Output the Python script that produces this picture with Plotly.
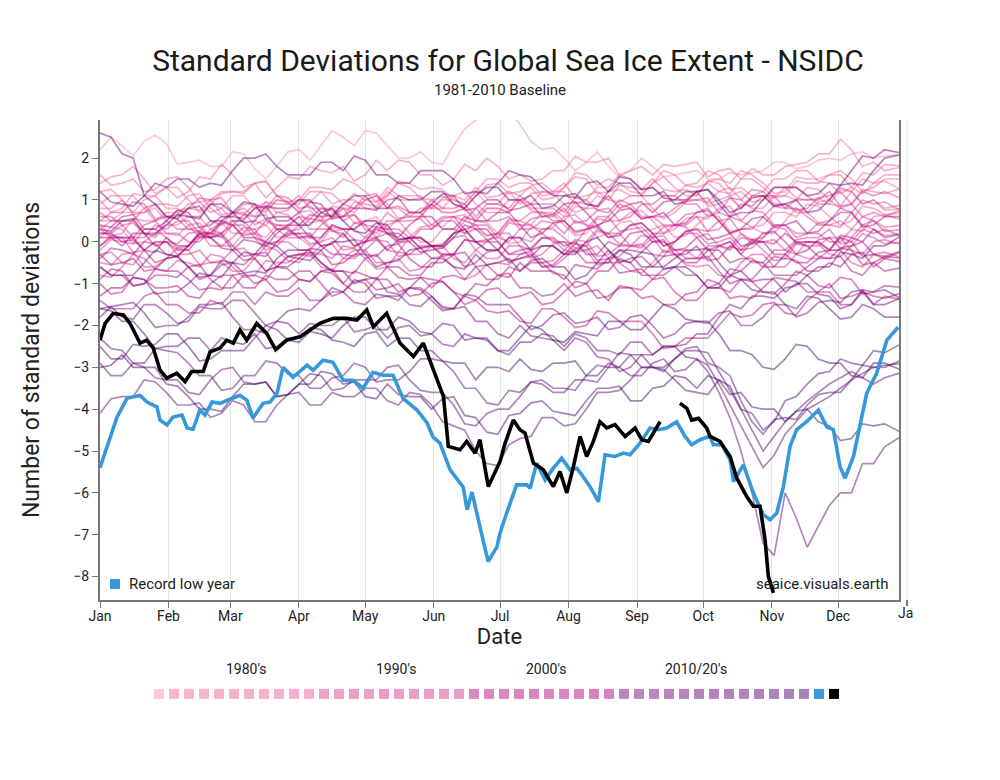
import plotly.graph_objects as go

# day-of-year sample points for the background years (every 5 days, last one on Dec 31)
doy = list(range(0, 360, 5)) + [364]

month_days = [0, 31, 59, 90, 120, 151, 181, 212, 243, 273, 304, 334]
month_names = ['Jan', 'Feb', 'Mar', 'Apr', 'May', 'Jun', 'Jul', 'Aug', 'Sep', 'Oct', 'Nov', 'Dec']

years = list(range(1979, 2023))

sd_1979 = [2.2, 2.5, 2.3, 2.05, 2.4, 2.55, 2.35, 1.85, 1.9, 1.95, 1.8, 1.8, 2.15, 2.1, 1.75, 1.5, 1.8, 2.15, 2.2, 1.95, 2.3, 2.65, 2.5, 2.3, 2.65, 2.6, 2.3, 2.0, 2.0, 2.15, 1.9, 1.85, 2.3, 2.7, 2.9, 3.1, 3.4, 3.15, 2.8, 2.4, 2.2, 2.25, 2.0, 1.7, 1.9, 2.15, 1.8, 1.55, 1.7, 2.0, 1.8, 1.55, 1.6, 1.65, 1.7, 1.5, 1.5, 1.65, 1.6, 1.65, 1.7, 1.9, 1.9, 1.75, 1.8, 1.95, 2.0, 1.95, 2.1, 2.15, 2.0, 2.05, 2.1]
sd_1980 = [1.4, 1.55, 1.6, 1.8, 1.5, 1.15, 1.3, 1.05, 1.2, 1.55, 1.5, 1.85, 1.6, 1.3, 1.4, 1.05, 1.3, 1.55, 1.5, 1.8, 1.7, 1.65, 1.8, 1.45, 1.6, 1.95, 1.7, 1.95, 1.9, 1.6, 1.6, 1.35, 1.5, 1.85, 1.7, 2.0, 1.8, 1.5, 1.6, 1.45, 1.5, 1.7, 1.7, 2.05, 1.9, 1.9, 2.0, 1.6, 1.7, 1.8, 1.6, 1.85, 1.8, 1.85, 1.9, 1.55, 1.7, 1.75, 1.5, 1.75, 1.6, 1.6, 1.8, 1.85, 1.9, 2.1, 2.1, 2.45, 2.2, 1.8, 1.9, 1.7, 1.8]
sd_1981 = [1.0, 0.7, 0.8, 1.15, 1.1, 1.1, 1.3, 1.3, 1.0, 0.7, 0.9, 1.15, 1.2, 1.2, 1.4, 1.45, 1.1, 0.95, 1.0, 1.3, 1.3, 1.25, 1.5, 1.4, 1.2, 0.95, 1.1, 1.45, 1.4, 1.25, 1.3, 1.25, 1.0, 0.9, 1.2, 1.5, 1.5, 1.3, 1.4, 1.4, 1.1, 1.15, 1.3, 1.65, 1.6, 1.35, 1.5, 1.4, 1.2, 1.15, 1.4, 1.55, 1.3, 1.1, 1.1, 1.45, 1.5, 1.4, 1.7, 1.6, 1.4, 1.15, 1.2, 1.55, 1.5, 1.5, 1.6, 1.6, 1.3, 1.15, 1.4, 1.6, 1.6]
sd_1982 = [0.5, 0.5, 0.7, 0.7, 1.0, 1.1, 0.8, 0.8, 0.6, 0.6, 0.9, 0.8, 1.1, 1.1, 0.8, 0.95, 0.7, 0.75, 1.0, 0.95, 1.2, 1.15, 0.9, 1.15, 1.0, 0.95, 1.3, 1.1, 1.1, 1.1, 0.8, 1.0, 1.0, 0.9, 1.2, 0.9, 0.9, 1.2, 1.1, 1.35, 1.4, 1.2, 1.2, 0.9, 1.0, 1.3, 1.3, 1.6, 1.5, 1.25, 1.3, 1.1, 1.1, 1.35, 1.4, 1.7, 1.6, 1.25, 1.3, 1.1, 1.2, 1.5, 1.5, 1.7, 1.7, 1.45, 1.4, 1.15, 1.3, 1.65, 1.6, 1.85, 1.8]
sd_1983 = [1.2, 1.25, 1.0, 0.65, 0.7, 0.9, 0.9, 0.85, 1.1, 1.15, 0.8, 0.6, 0.6, 0.9, 0.9, 0.75, 1.0, 0.95, 0.7, 0.45, 0.5, 0.85, 0.8, 0.8, 1.0, 1.1, 0.9, 0.55, 0.6, 0.8, 0.8, 0.8, 1.1, 1.2, 0.9, 0.7, 0.7, 1.0, 1.0, 0.9, 1.2, 1.15, 0.9, 0.7, 0.8, 1.1, 1.0, 0.95, 1.1, 1.1, 0.8, 0.55, 0.7, 0.95, 1.0, 0.95, 1.2, 1.3, 1.0, 0.8, 0.8, 1.1, 1.1, 1.0, 1.3, 1.25, 1.0, 0.8, 0.9, 1.25, 1.2, 1.15, 1.3]
sd_1984 = [0.3, 0.5, 0.5, 0.5, 0.2, 0.1, 0.4, 0.4, 0.6, 0.6, 0.3, 0.45, 0.2, 0.2, 0.5, 0.4, 0.7, 0.65, 0.4, 0.65, 0.6, 0.6, 0.8, 0.45, 0.5, 0.6, 0.3, 0.55, 0.6, 0.6, 0.9, 0.7, 0.7, 0.8, 0.5, 0.8, 0.8, 0.7, 1.0, 0.75, 0.7, 0.7, 0.5, 0.85, 0.8, 0.8, 1.1, 0.8, 0.9, 0.95, 0.7, 0.95, 1.0, 1.0, 1.2, 0.85, 0.9, 1.05, 0.8, 1.1, 1.1, 1.05, 1.3, 1.05, 1.0, 1.05, 0.9, 1.25, 1.2, 0.9, 1.0, 0.75, 0.8]
sd_1985 = [1.6, 1.35, 1.4, 1.5, 1.2, 1.25, 1.5, 1.55, 1.3, 0.95, 1.0, 1.2, 1.2, 1.15, 1.4, 1.45, 1.1, 0.9, 0.9, 1.2, 1.2, 0.9, 1.0, 1.0, 0.8, 0.8, 1.1, 1.4, 1.3, 1.05, 1.0, 1.1, 0.9, 0.8, 1.1, 1.35, 1.4, 1.15, 1.2, 1.3, 1.0, 1.05, 1.3, 1.55, 1.5, 1.15, 1.2, 1.25, 1.1, 1.1, 1.4, 1.7, 1.6, 1.35, 1.3, 1.4, 1.2, 1.15, 1.5, 1.5, 1.3, 1.05, 1.1, 1.45, 1.4, 1.4, 1.6, 1.7, 1.5, 1.2, 1.3, 1.5, 1.5]
sd_1986 = [0.8, 0.8, 1.0, 0.7, 0.7, 0.8, 0.5, 0.75, 0.8, 0.75, 1.0, 0.65, 0.7, 0.8, 0.6, 0.95, 0.9, 0.9, 1.1, 0.8, 0.8, 0.8, 0.6, 0.95, 0.9, 0.85, 1.2, 1.0, 1.0, 1.05, 0.8, 1.05, 1.1, 1.0, 1.3, 1.05, 1.1, 1.2, 0.9, 1.15, 1.2, 1.2, 1.4, 1.05, 1.1, 1.2, 1.0, 1.35, 1.3, 1.25, 1.5, 1.25, 1.2, 1.25, 1.1, 1.45, 1.4, 1.1, 1.2, 0.95, 1.0, 1.3, 1.3, 1.3, 1.1, 0.9, 0.9, 0.85, 1.2, 1.5, 1.4, 1.45, 1.2]
sd_1987 = [0.1, 0.35, 0.3, -0.05, 0.0, 0.2, 0.2, 0.15, 0.4, 0.45, 0.1, -0.1, -0.1, 0.2, 0.2, 0.1, 0.4, 0.35, 0.1, -0.1, 0.0, 0.35, 0.3, 0.3, 0.5, 0.5, 0.2, -0.05, 0.1, 0.35, 0.4, 0.35, 0.6, 0.65, 0.3, 0.15, 0.2, 0.5, 0.5, 0.4, 0.7, 0.65, 0.4, 0.15, 0.2, 0.55, 0.5, 0.5, 0.7, 0.75, 0.5, 0.2, 0.3, 0.55, 0.6, 0.55, 0.8, 0.85, 0.5, 0.35, 0.4, 0.7, 0.7, 0.6, 0.9, 0.85, 0.6, 0.4, 0.5, 0.85, 0.8, 0.65, 0.7]
sd_1988 = [0.9, 1.1, 1.1, 1.1, 0.8, 0.5, 0.6, 0.65, 0.9, 0.95, 0.7, 0.8, 0.5, 0.5, 0.8, 0.7, 1.0, 0.95, 0.7, 0.75, 0.5, 0.55, 0.8, 0.7, 1.0, 1.1, 0.8, 0.8, 0.6, 0.6, 0.9, 0.7, 0.7, 0.8, 0.5, 0.8, 0.8, 0.7, 1.0, 0.8, 0.8, 0.8, 0.6, 0.95, 0.9, 0.85, 1.1, 0.8, 0.9, 0.95, 0.7, 0.95, 1.0, 1.0, 1.2, 0.9, 1.0, 1.1, 0.8, 1.1, 1.1, 0.85, 0.9, 0.7, 0.7, 0.95, 1.0, 1.3, 1.2, 0.9, 1.0, 0.8, 0.9]
sd_1989 = [0.4, 0.15, 0.2, 0.55, 0.5, 0.5, 0.7, 0.7, 0.4, 0.1, 0.2, 0.45, 0.5, 0.25, 0.3, 0.4, 0.1, 0.15, 0.4, 0.65, 0.6, 0.25, 0.3, 0.3, 0.1, 0.1, 0.4, 0.5, 0.2, 0.0, 0.0, 0.3, 0.3, 0.2, 0.5, 0.45, 0.2, -0.05, 0.0, 0.35, 0.3, 0.35, 0.6, 0.65, 0.4, 0.1, 0.2, 0.45, 0.5, 0.25, 0.3, 0.4, 0.1, 0.15, 0.4, 0.65, 0.6, 0.25, 0.3, 0.35, 0.2, 0.2, 0.5, 0.8, 0.7, 0.45, 0.4, 0.5, 0.3, 0.25, 0.6, 0.65, 0.5]
sd_1990 = [0.7, 0.5, 0.5, 0.5, 0.8, 0.9, 0.6, 0.55, 0.3, 0.25, 0.5, 0.4, 0.7, 0.7, 0.4, 0.55, 0.3, 0.35, 0.6, 0.55, 0.8, 0.75, 0.5, 0.65, 0.4, 0.35, 0.7, 0.5, 0.5, 0.55, 0.3, 0.55, 0.6, 0.3, 0.4, 0.15, 0.2, 0.55, 0.5, 0.7, 0.7, 0.5, 0.5, 0.2, 0.3, 0.6, 0.6, 0.9, 0.8, 0.55, 0.6, 0.4, 0.4, 0.65, 0.7, 0.8, 0.5, 0.2, 0.3, 0.3, 0.6, 0.85, 0.8, 0.8, 0.6, 0.4, 0.4, 0.35, 0.7, 1.0, 0.9, 0.95, 0.7]
sd_1991 = [-0.2, 0.05, 0.0, -0.05, 0.3, 0.3, 0.1, -0.15, -0.1, 0.25, 0.2, 0.2, 0.4, 0.4, 0.1, -0.2, -0.1, 0.15, 0.2, -0.05, 0.0, 0.1, -0.2, -0.15, 0.1, 0.35, 0.3, 0.0, 0.1, 0.1, -0.1, -0.1, 0.2, 0.3, 0.0, -0.2, -0.2, 0.1, 0.1, 0.0, 0.3, 0.3, 0.1, -0.15, -0.1, 0.25, 0.2, 0.2, 0.4, 0.45, 0.2, -0.1, 0.0, 0.25, 0.3, 0.25, 0.5, 0.55, 0.2, 0.05, 0.1, 0.4, 0.4, 0.1, 0.2, 0.2, 0.0, 0.0, 0.3, 0.6, 0.5, 0.35, 0.4]
sd_1992 = [0.5, 0.7, 0.7, 0.95, 0.9, 0.55, 0.6, 0.6, 0.8, 1.05, 1.0, 1.05, 0.7, 0.65, 0.9, 0.8, 1.1, 1.05, 0.8, 0.85, 0.6, 0.65, 0.9, 0.8, 1.1, 1.15, 0.8, 0.85, 0.7, 0.7, 1.0, 0.8, 0.8, 0.9, 0.6, 0.9, 0.9, 0.8, 1.1, 0.9, 0.9, 0.9, 0.7, 1.05, 1.0, 0.75, 0.8, 0.5, 0.6, 0.9, 0.9, 1.1, 1.1, 0.9, 0.9, 0.6, 0.7, 1.05, 1.0, 1.25, 1.2, 0.9, 0.9, 0.75, 0.8, 1.05, 1.1, 1.2, 0.9, 0.6, 0.7, 0.6, 0.8]
sd_1993 = [-0.5, -0.55, -0.3, -0.25, -0.6, -0.6, -0.4, -0.15, -0.2, -0.55, -0.5, -0.5, -0.7, -0.7, -0.4, -0.1, -0.2, -0.45, -0.5, -0.25, -0.3, -0.4, -0.1, -0.15, -0.4, -0.65, -0.6, -0.25, -0.3, -0.3, -0.1, -0.1, -0.4, -0.5, -0.2, 0.0, 0.0, -0.3, -0.3, -0.2, -0.5, -0.45, -0.2, 0.05, 0.0, -0.35, -0.3, -0.1, -0.1, -0.15, 0.1, 0.15, -0.2, -0.4, -0.4, -0.1, -0.1, -0.2, 0.1, 0.05, -0.2, -0.45, -0.4, -0.05, -0.1, -0.1, 0.1, 0.1, -0.2, -0.3, 0.0, 0.05, -0.1]
sd_1994 = [0.2, 0.2, 0.4, 0.1, 0.1, 0.4, 0.3, 0.5, 0.5, 0.2, 0.2, 0.1, 0.4, 0.65, 0.6, 0.65, 0.3, 0.1, 0.1, 0.1, 0.4, 0.6, 0.6, 0.65, 0.3, 0.2, 0.5, 0.5, 0.7, 0.7, 0.4, 0.6, 0.6, 0.5, 0.8, 0.5, 0.5, 0.6, 0.3, 0.55, 0.6, 0.6, 0.8, 0.45, 0.5, 0.75, 0.7, 1.0, 0.9, 0.6, 0.6, 0.6, 0.8, 1.0, 1.0, 1.05, 0.7, 0.6, 0.9, 0.85, 1.1, 1.1, 0.8, 1.0, 1.0, 1.0, 1.2, 0.85, 0.9, 1.2, 1.1, 1.2, 1.0]
sd_1995 = [-0.1, 0.15, 0.1, -0.25, -0.2, 0.0, 0.0, -0.05, 0.2, 0.25, -0.1, -0.1, 0.1, 0.35, 0.3, -0.05, 0.0, 0.0, -0.2, -0.2, 0.1, 0.4, 0.3, 0.05, 0.0, 0.05, -0.2, -0.25, 0.1, 0.1, -0.1, -0.35, -0.3, 0.05, 0.0, 0.0, 0.2, 0.2, -0.1, -0.4, -0.3, -0.05, 0.0, -0.25, -0.2, -0.1, -0.4, -0.35, -0.1, 0.15, 0.1, -0.25, -0.2, -0.2, -0.4, -0.4, -0.1, 0.0, -0.3, -0.5, -0.5, -0.2, -0.2, -0.3, 0.0, -0.05, -0.3, -0.35, -0.1, 0.2, 0.1, -0.05, 0.0]
sd_1996 = [0.6, 0.6, 0.4, 0.45, 0.2, 0.15, 0.5, 0.3, 0.3, 0.35, 0.1, 0.45, 0.4, 0.15, 0.2, -0.1, 0.0, 0.25, 0.3, 0.55, 0.5, 0.25, 0.2, -0.1, 0.0, 0.35, 0.3, 0.3, 0.1, -0.15, -0.1, -0.05, 0.2, 0.5, 0.4, 0.4, 0.1, 0.0, 0.3, 0.3, 0.5, 0.45, 0.2, 0.5, 0.4, 0.35, 0.6, 0.25, 0.3, 0.35, 0.1, 0.35, 0.4, 0.4, 0.6, 0.25, 0.3, 0.6, 0.5, 0.75, 0.7, 0.4, 0.4, 0.2, 0.2, 0.45, 0.5, 0.8, 0.7, 0.4, 0.5, 0.25, 0.3]
sd_1997 = [-0.8, -0.85, -0.6, -0.3, -0.4, -0.65, -0.7, -0.45, -0.5, -0.6, -0.3, -0.35, -0.6, -0.85, -0.8, -0.45, -0.5, -0.5, -0.3, -0.3, -0.6, -0.7, -0.4, -0.2, -0.2, -0.5, -0.5, -0.4, -0.7, -0.65, -0.4, -0.35, -0.6, -0.9, -0.8, -0.55, -0.5, -0.55, -0.3, -0.25, -0.6, -0.6, -0.4, -0.15, -0.2, -0.55, -0.5, -0.5, -0.7, -0.75, -0.5, -0.2, -0.3, -0.55, -0.6, -0.55, -0.8, -0.85, -0.5, -0.3, -0.3, -0.6, -0.6, -0.3, -0.4, -0.4, -0.2, -0.2, -0.5, -0.6, -0.3, -0.25, -0.4]
sd_1998 = [0.3, 0.1, 0.1, 0.1, 0.4, 0.5, 0.2, 0.2, 0.0, 0.0, 0.3, 0.2, 0.5, 0.5, 0.2, 0.5, 0.4, 0.4, 0.6, 0.3, 0.3, 0.3, 0.1, 0.45, 0.4, 0.1, 0.2, 0.0, 0.0, 0.3, 0.3, 0.5, 0.5, 0.2, 0.3, 0.05, 0.1, 0.45, 0.4, 0.4, 0.2, 0.0, 0.0, -0.05, 0.3, 0.35, 0.1, 0.2, -0.1, -0.1, 0.2, 0.2, 0.4, 0.35, 0.1, 0.2, -0.1, -0.15, 0.2, -0.05, 0.0, 0.05, -0.2, 0.05, 0.1, 0.1, 0.3, -0.05, 0.0, 0.3, 0.2, 0.3, 0.1]
sd_1999 = [-0.3, -0.25, -0.5, -0.55, -0.2, 0.0, 0.0, -0.3, -0.3, -0.2, -0.5, -0.45, -0.2, -0.15, -0.4, -0.7, -0.6, -0.35, -0.3, -0.35, -0.1, -0.05, -0.4, -0.4, -0.2, 0.05, 0.0, -0.35, -0.3, -0.1, -0.1, -0.15, 0.1, 0.15, -0.2, -0.4, -0.4, -0.1, -0.1, -0.2, 0.1, 0.05, -0.2, -0.25, 0.0, 0.3, 0.2, -0.05, -0.1, -0.05, -0.3, -0.35, 0.0, 0.2, 0.2, -0.05, 0.0, 0.1, -0.2, -0.15, 0.1, 0.35, 0.3, -0.05, 0.0, 0.0, -0.2, -0.2, 0.1, 0.4, 0.3, 0.15, 0.2]
sd_2000 = [0.1, 0.1, -0.1, 0.2, 0.2, -0.1, 0.0, -0.2, -0.2, 0.1, 0.1, 0.2, -0.1, -0.35, -0.3, -0.35, 0.0, 0.2, 0.2, 0.2, -0.1, -0.3, -0.3, -0.35, 0.0, 0.3, 0.2, 0.2, 0.0, -0.25, -0.2, -0.15, 0.1, 0.4, 0.3, 0.3, 0.0, -0.3, -0.2, -0.15, 0.1, 0.1, -0.1, 0.0, -0.3, -0.3, 0.0, -0.1, 0.2, 0.25, 0.0, 0.0, -0.2, -0.15, 0.1, -0.2, -0.1, 0.0, -0.3, 0.0, 0.0, -0.05, 0.2, 0.0, 0.0, 0.0, -0.2, 0.15, 0.1, 0.0, 0.3, 0.1, 0.2]
sd_2001 = [0.4, 0.35, 0.6, 0.65, 0.3, 0.3, 0.5, 0.75, 0.7, 0.35, 0.4, 0.6, 0.6, 0.55, 0.8, 0.85, 0.5, 0.5, 0.7, 0.95, 0.9, 0.55, 0.6, 0.8, 0.8, 0.75, 1.0, 1.05, 0.7, 0.7, 0.9, 1.15, 1.1, 0.75, 0.8, 1.0, 1.0, 0.75, 0.8, 0.9, 0.6, 0.65, 0.9, 0.95, 0.7, 0.4, 0.5, 0.75, 0.8, 0.55, 0.6, 0.7, 0.4, 0.45, 0.7, 0.75, 0.5, 0.2, 0.3, 0.55, 0.6, 0.35, 0.4, 0.5, 0.2, 0.25, 0.5, 0.7, 0.7, 0.35, 0.4, 0.6, 0.6]
sd_2002 = [-0.6, -0.8, -0.8, -1.05, -1.0, -0.65, -0.7, -0.7, -0.9, -1.15, -1.1, -1.15, -0.8, -0.75, -1.0, -0.9, -1.2, -1.15, -0.9, -0.95, -0.7, -0.75, -1.0, -0.7, -0.8, -0.9, -0.6, -0.85, -0.9, -0.85, -1.1, -0.85, -0.8, -0.9, -0.6, -0.9, -0.9, -0.6, -0.7, -0.5, -0.5, -0.75, -0.8, -1.1, -1.0, -0.7, -0.7, -0.4, -0.5, -0.8, -0.8, -0.8, -0.6, -0.4, -0.4, -0.35, -0.7, -1.0, -0.9, -0.9, -0.6, -0.35, -0.4, -0.45, -0.7, -0.7, -0.5, -0.6, -0.3, -0.25, -0.6, -0.4, -0.5]
sd_2003 = [-0.4, -0.15, -0.2, -0.3, 0.0, -0.05, -0.3, -0.35, -0.1, 0.2, 0.1, -0.15, -0.2, 0.05, 0.0, -0.1, 0.2, 0.4, 0.4, 0.1, 0.1, 0.4, 0.3, 0.3, 0.5, 0.5, 0.2, 0.1, 0.4, 0.6, 0.6, 0.3, 0.3, 0.6, 0.5, 0.5, 0.7, 0.7, 0.4, 0.1, 0.2, 0.45, 0.5, 0.25, 0.3, 0.4, 0.1, 0.15, 0.4, 0.45, 0.2, -0.1, 0.0, 0.25, 0.3, 0.05, 0.1, 0.2, -0.1, -0.05, 0.2, 0.25, 0.0, -0.3, -0.2, 0.05, 0.1, -0.15, -0.1, 0.0, -0.3, -0.35, -0.2]
sd_2004 = [-0.1, 0.1, 0.1, 0.1, -0.2, -0.5, -0.4, -0.35, -0.1, 0.15, 0.1, 0.15, -0.2, -0.45, -0.4, -0.7, -0.6, -0.35, -0.3, -0.25, -0.5, -0.7, -0.7, -0.75, -0.4, -0.3, -0.6, -0.6, -0.8, -0.8, -0.5, -0.5, -0.3, -0.25, -0.6, -0.55, -0.8, -0.85, -0.5, -0.7, -0.7, -0.7, -0.9, -0.55, -0.6, -0.65, -0.4, -0.75, -0.7, -0.65, -0.9, -0.65, -0.6, -0.8, -0.8, -1.1, -1.0, -0.65, -0.7, -0.45, -0.5, -0.8, -0.8, -0.8, -0.6, -0.4, -0.4, -0.35, -0.7, -0.8, -0.5, -0.7, -0.6]
sd_2005 = [-1.0, -1.25, -1.2, -0.85, -0.9, -1.1, -1.1, -1.05, -1.3, -1.35, -1.0, -0.8, -0.8, -1.1, -1.1, -0.8, -0.9, -0.9, -0.7, -0.7, -1.0, -1.3, -1.2, -0.95, -0.9, -1.15, -1.1, -1.0, -1.3, -1.25, -1.0, -0.95, -1.2, -1.5, -1.4, -1.15, -1.1, -1.35, -1.3, -1.2, -1.5, -1.45, -1.2, -0.95, -1.0, -1.35, -1.3, -1.1, -1.1, -1.15, -0.9, -0.85, -1.2, -1.4, -1.4, -1.1, -1.1, -1.2, -0.9, -0.95, -1.2, -1.25, -1.0, -0.7, -0.8, -1.05, -1.1, -0.85, -0.9, -1.25, -1.2, -1.05, -1.1]
sd_2006 = [-1.4, -1.6, -1.6, -1.6, -1.3, -1.2, -1.5, -1.5, -1.7, -1.7, -1.4, -1.5, -1.2, -1.2, -1.5, -1.2, -1.3, -1.3, -1.1, -1.4, -1.4, -1.2, -1.2, -0.9, -1.0, -1.35, -1.3, -1.3, -1.1, -0.85, -0.9, -0.95, -1.2, -1.3, -1.0, -1.05, -0.8, -0.75, -1.1, -1.1, -1.3, -1.25, -1.0, -1.3, -1.2, -1.15, -1.4, -1.05, -1.1, -1.35, -1.3, -1.5, -1.5, -1.25, -1.2, -0.9, -1.0, -1.35, -1.3, -1.35, -1.1, -0.85, -0.9, -0.95, -1.2, -1.2, -1.0, -1.35, -1.3, -1.2, -1.5, -1.3, -1.4]
sd_2007 = [-0.9, -0.65, -0.7, -1.05, -1.0, -0.8, -0.8, -0.85, -0.6, -0.55, -0.9, -1.1, -1.1, -0.8, -0.8, -0.9, -0.6, -0.65, -0.9, -0.95, -0.7, -0.65, -1.0, -1.2, -1.2, -0.9, -0.9, -1.2, -1.1, -1.1, -1.3, -1.6, -1.6, -1.3, -1.4, -1.65, -1.7, -1.65, -1.9, -1.95, -1.6, -1.6, -1.8, -2.05, -2.0, -1.65, -1.7, -1.9, -1.9, -1.9, -2.2, -2.55, -2.5, -2.3, -2.3, -2.3, -2.0, -1.7, -1.8, -1.75, -1.5, -1.45, -1.7, -1.75, -1.4, -1.2, -1.2, -1.5, -1.5, -1.2, -1.3, -1.35, -1.2]
sd_2008 = [0.2, 0.2, 0.0, 0.05, -0.2, -0.25, 0.1, -0.1, -0.1, 0.2, 0.2, 0.5, 0.4, 0.1, 0.1, 0.0, 0.3, 0.3, 0.1, 0.15, -0.1, -0.05, 0.2, -0.1, 0.0, 0.1, -0.2, 0.05, 0.1, -0.15, -0.1, -0.3, -0.3, 0.05, 0.0, 0.05, -0.2, -0.5, -0.4, -0.35, -0.1, -0.1, -0.3, -0.2, -0.5, -0.5, -0.2, -0.5, -0.4, -0.35, -0.6, -0.35, -0.3, -0.3, -0.1, -0.45, -0.4, -0.1, -0.2, 0.05, 0.0, -0.3, -0.3, -0.5, -0.5, -0.25, -0.2, 0.1, 0.0, -0.35, -0.3, -0.4, -0.2]
sd_2009 = [-0.3, -0.55, -0.5, -0.4, -0.7, -0.65, -0.4, -0.35, -0.6, -0.9, -0.8, -0.55, -0.5, -0.55, -0.3, -0.25, -0.6, -0.6, -0.4, -0.15, -0.2, -0.55, -0.5, -0.3, -0.3, -0.35, -0.1, -0.05, -0.4, -0.6, -0.6, -0.3, -0.3, -0.6, -0.5, -0.25, -0.2, -0.45, -0.4, -0.3, -0.6, -0.55, -0.3, -0.05, -0.1, -0.45, -0.4, -0.2, -0.2, -0.25, 0.0, 0.05, -0.3, -0.5, -0.5, -0.2, -0.2, -0.5, -0.4, -0.4, -0.6, -0.6, -0.3, 0.0, -0.1, -0.35, -0.4, -0.15, -0.2, -0.55, -0.5, -0.35, -0.4]
sd_2010 = [-0.6, -0.8, -0.8, -0.8, -0.5, -0.2, -0.3, -0.35, -0.6, -0.85, -0.8, -0.85, -0.5, -0.25, -0.3, 0.0, -0.1, -0.35, -0.4, -0.45, -0.2, 0.0, 0.0, 0.05, -0.3, -0.6, -0.5, -0.45, -0.2, -0.15, -0.4, -0.4, -0.6, -0.65, -0.3, -0.55, -0.5, -0.4, -0.7, -0.45, -0.4, -0.6, -0.6, -0.9, -0.8, -0.5, -0.5, -0.2, -0.3, -0.6, -0.6, -0.6, -0.4, -0.2, -0.2, -0.15, -0.5, -0.8, -0.7, -0.95, -0.9, -0.9, -1.2, -1.0, -1.0, -1.25, -1.3, -1.6, -1.5, -1.15, -1.2, -1.15, -1.4]
sd_2011 = [-1.6, -1.55, -1.8, -1.85, -1.5, -1.5, -1.7, -1.95, -1.9, -1.55, -1.6, -1.6, -1.4, -1.4, -1.7, -2.0, -1.9, -1.65, -1.6, -1.65, -1.4, -1.1, -1.2, -1.45, -1.5, -1.25, -1.3, -1.4, -1.1, -1.15, -1.4, -1.65, -1.6, -1.25, -1.3, -1.5, -1.5, -1.5, -1.8, -2.1, -2.0, -1.75, -1.7, -1.95, -1.9, -1.8, -2.1, -2.05, -1.8, -1.75, -2.0, -2.3, -2.2, -1.95, -1.9, -1.95, -1.7, -1.65, -2.0, -2.0, -1.8, -1.5, -1.5, -1.8, -1.7, -1.45, -1.4, -1.45, -1.2, -1.15, -1.5, -1.5, -1.3]
sd_2012 = [-1.3, -1.1, -1.1, -0.85, -0.9, -1.25, -1.2, -1.2, -1.0, -0.75, -0.8, -0.45, -0.5, -0.75, -0.7, -0.75, -0.4, -0.2, -0.2, -0.2, -0.5, -0.7, -0.7, -1.0, -0.9, -0.85, -1.2, -1.25, -1.5, -1.55, -1.3, -1.55, -1.6, -1.55, -1.9, -1.9, -2.2, -2.3, -2.0, -2.25, -2.3, -2.35, -2.6, -2.3, -2.4, -2.75, -2.8, -3.1, -3.0, -2.7, -2.7, -2.5, -2.5, -2.45, -2.2, -2.2, -1.8, -1.5, -1.6, -1.3, -1.3, -1.35, -1.1, -1.05, -0.8, -0.6, -0.6, -0.25, -0.3, -0.4, -0.1, -0.1, 0.2]
sd_2013 = [0.3, 0.25, 0.5, 0.55, 0.2, 0.2, 0.4, 0.65, 0.6, 0.55, 0.9, 0.9, 0.7, 0.45, 0.5, 0.85, 0.8, 0.8, 1.0, 1.0, 0.7, 0.6, 0.9, 1.1, 1.1, 0.8, 0.8, 1.1, 1.0, 1.0, 1.2, 1.2, 0.9, 0.8, 1.1, 1.3, 1.3, 1.0, 1.0, 1.1, 0.8, 0.85, 1.1, 1.15, 0.9, 0.85, 1.2, 1.4, 1.4, 1.1, 1.1, 1.2, 0.9, 0.95, 1.2, 1.25, 1.0, 0.7, 0.8, 1.05, 1.1, 0.85, 0.9, 1.0, 0.7, 0.75, 1.0, 1.35, 1.4, 1.35, 1.7, 2.0, 2.1]
sd_2014 = [1.2, 0.95, 0.9, 0.85, 1.1, 1.4, 1.3, 1.5, 1.5, 1.3, 1.4, 1.35, 1.7, 2.0, 2.0, 2.1, 1.8, 1.6, 1.6, 1.6, 1.9, 1.9, 1.7, 2.05, 1.95, 1.6, 1.6, 1.4, 1.4, 1.7, 1.7, 1.7, 1.5, 1.15, 1.2, 1.15, 1.4, 1.7, 1.6, 1.55, 1.3, 1.1, 1.1, 1.05, 1.4, 1.45, 1.2, 1.55, 1.5, 1.25, 1.3, 1.05, 1.0, 1.2, 1.2, 1.25, 0.9, 0.6, 0.7, 0.7, 1.0, 1.3, 1.3, 1.3, 1.1, 1.15, 1.4, 1.35, 1.7, 2.05, 2.0, 2.2, 2.1]
sd_2015 = [2.6, 2.5, 2.1, 2.0, 1.1, 0.9, 0.6, 0.55, 0.8, 0.85, 0.5, 0.5, 0.7, 0.95, 0.9, 0.55, 0.6, 0.6, 0.4, 0.4, 0.7, 0.8, 0.5, 0.25, 0.2, 0.45, 0.4, 0.05, 0.1, 0.1, -0.1, -0.1, 0.2, 0.3, 0.0, -0.2, -0.2, 0.1, 0.1, -0.2, -0.1, -0.1, -0.3, -0.3, 0.0, 0.1, -0.2, -0.45, -0.5, -0.25, -0.3, -0.65, -0.6, -0.6, -0.8, -1.1, -1.1, -0.8, -0.9, -1.15, -1.2, -1.2, -1.5, -1.6, -1.3, -1.35, -1.6, -1.85, -1.8, -1.5, -1.6, -1.8, -1.8]
sd_2016 = [-1.8, -1.55, -1.5, -1.45, -1.7, -2.05, -2.0, -2.0, -1.8, -1.5, -1.5, -1.45, -1.8, -2.1, -2.1, -2.2, -1.9, -1.95, -2.2, -1.95, -2.0, -2.0, -1.8, -2.15, -2.1, -2.0, -2.3, -2.05, -2.0, -2.25, -2.2, -2.45, -2.5, -2.2, -2.3, -2.3, -2.6, -2.7, -2.4, -2.4, -2.2, -2.25, -2.5, -2.2, -2.3, -2.6, -2.6, -2.7, -2.4, -2.4, -2.7, -2.5, -2.5, -2.75, -2.8, -3.1, -3.6, -4.2, -5.0, -6.0, -7.2, -7.5, -6.0, -6.6, -7.3, -6.8, -6.3, -6.0, -6.0, -5.3, -5.3, -4.9, -4.6]
sd_2017 = [-2.9, -3.2, -3.2, -2.9, -3.0, -3.25, -3.3, -3.3, -3.6, -3.65, -3.3, -3.05, -3.0, -3.35, -3.4, -3.35, -3.7, -3.65, -3.4, -3.15, -3.2, -3.55, -3.5, -3.3, -3.3, -3.3, -3.0, -2.95, -3.3, -3.55, -3.6, -3.6, -3.9, -4.35, -4.4, -4.1, -4.0, -4.0, -3.7, -3.35, -3.4, -3.6, -3.6, -3.3, -3.3, -3.35, -3.0, -3.0, -3.2, -3.2, -2.9, -2.8, -3.1, -3.05, -2.8, -2.95, -3.4, -3.9, -4.4, -4.9, -5.4, -5.1, -4.6, -4.3, -4.0, -3.85, -3.7, -3.5, -3.3, -3.15, -3.0, -2.95, -2.9]
sd_2018 = [-2.3, -2.55, -2.6, -2.9, -2.9, -2.55, -2.6, -2.65, -2.9, -3.2, -3.2, -3.55, -3.5, -3.2, -3.2, -2.85, -2.9, -3.15, -3.2, -3.5, -3.5, -3.25, -3.2, -2.9, -3.0, -3.35, -3.3, -3.3, -3.1, -2.8, -2.8, -2.85, -3.1, -3.5, -3.5, -3.85, -3.9, -3.55, -3.6, -3.35, -3.3, -3.5, -3.5, -3.55, -3.2, -2.95, -3.0, -2.65, -2.7, -3.0, -3.0, -3.0, -2.8, -2.6, -2.6, -2.65, -3.1, -3.55, -4.0, -4.5, -5.0, -4.65, -4.3, -4.05, -3.8, -3.6, -3.4, -3.25, -3.1, -3.25, -3.4, -3.25, -3.1]
sd_2019 = [-4.1, -3.75, -3.7, -3.7, -3.3, -3.35, -3.6, -3.9, -3.9, -3.85, -4.2, -4.1, -3.8, -3.9, -4.3, -4.3, -3.9, -3.65, -3.6, -3.9, -3.9, -3.6, -3.7, -3.7, -3.5, -3.5, -3.8, -3.9, -3.6, -3.65, -3.9, -4.3, -4.4, -4.5, -5.0, -5.3, -5.35, -4.85, -4.7, -4.65, -4.2, -4.2, -4.4, -4.35, -4.0, -3.6, -3.6, -3.55, -3.3, -3.0, -3.0, -3.1, -2.8, -2.55, -2.5, -2.9, -3.0, -3.2, -3.8, -4.3, -4.6, -4.25, -4.2, -4.25, -3.9, -3.65, -3.6, -3.6, -3.3, -2.95, -3.0, -3.0, -2.8]
sd_2020 = [-1.6, -1.65, -1.9, -1.9, -2.2, -2.55, -2.5, -2.5, -2.3, -2.3, -2.6, -2.3, -2.4, -2.45, -2.2, -2.55, -2.5, -2.3, -2.3, -2.05, -2.1, -2.35, -2.4, -2.5, -2.2, -2.15, -2.5, -2.3, -2.3, -2.6, -2.6, -2.85, -2.9, -2.9, -3.3, -3.0, -3.0, -3.1, -2.8, -3.05, -3.1, -2.9, -2.9, -2.85, -3.2, -3.2, -2.9, -3.0, -2.7, -2.7, -3.0, -3.05, -3.3, -3.55, -3.6, -3.65, -3.3, -3.45, -4.0, -4.1, -4.5, -4.3, -3.8, -3.7, -3.4, -3.15, -3.1, -2.8, -2.9, -2.95, -2.6, -2.65, -2.4]
sd_2021 = [-2.5, -2.8, -2.8, -2.45, -2.5, -2.45, -2.2, -2.2, -2.5, -2.85, -2.8, -2.6, -2.6, -2.6, -2.3, -2.0, -2.1, -2.35, -2.4, -2.15, -2.2, -2.3, -2.0, -1.8, -1.8, -2.1, -2.1, -1.8, -1.9, -2.15, -2.2, -1.95, -2.0, -2.35, -2.3, -2.35, -2.6, -2.6, -2.3, -2.0, -2.1, -2.35, -2.4, -2.15, -2.2, -2.25, -1.9, -1.9, -2.1, -2.1, -1.8, -1.5, -1.6, -1.85, -1.9, -1.9, -2.2, -2.6, -2.6, -2.7, -3.0, -3.05, -2.8, -2.45, -2.5, -2.8, -2.9, -2.9, -3.2, -3.25, -2.9, -2.9, -3.1]
sd_2022 = [-3.0, -2.95, -2.7, -3.0, -3.0, -3.0, -3.4, -3.45, -3.7, -4.0, -4.0, -4.05, -3.7, -3.4, -3.4, -3.35, -3.7, -3.65, -3.4, -3.4, -3.1, -3.15, -3.4, -3.35, -3.7, -3.75, -3.4, -3.65, -3.7, -3.7, -4.0, -3.75, -3.7, -4.15, -4.2, -4.55, -4.6, -4.15, -4.1, -3.85, -3.8, -4.05, -4.1, -4.15, -3.8, -3.5, -3.5, -3.45, -3.8, -3.8, -3.5, -3.45, -3.2, -3.25, -3.5, -3.2, -3.3, -3.65, -3.6, -3.95, -4.0, -4.0, -4.3, -4.05, -4.0, -4.3, -4.4, -4.75, -4.7, -4.35, -4.4, -4.35, -4.6]

# record low year (2023)
record_doy = [0, 4.5, 7.7, 12.2, 18.1, 21.3, 25.8, 27.1, 30.3, 33, 37.1, 39.4, 42.1, 45.2, 47.5, 50.7, 54.3, 57.5, 60.2, 63.3,
              66.5, 69.2, 73.8, 76.9, 80.1, 82.8, 87.3, 93.7, 96.4, 100.9, 105.4, 110, 114.5, 119, 123.5, 128.1, 132.6, 137.1, 143.4, 148,
              150.7, 153.8, 158.4, 164.3, 166.1, 168.3, 171.9, 175.6, 179.6, 181, 184, 188.5, 193.1, 194.6, 197.6, 201.4, 205.1, 208.9, 212.7, 215.7,
              218, 221.7, 225.5, 228.5, 233, 236.8, 239.8, 244.3, 248.9, 252.6, 256.4, 260.9, 264.7, 267.7, 271.5, 276, 277.5, 281.3, 285.1, 286.6,
              291.1, 295.6, 300.1, 303.2, 306.2, 309.2, 312.2, 315.2, 319.7, 325, 328.8, 331.8, 334.8, 337.1, 340.9, 343.9, 346.9, 351.4, 356, 361.1]
record_sd = [-5.40, -4.67, -4.19, -3.74, -3.67, -3.83, -3.95, -4.26, -4.38, -4.19, -4.14, -4.45, -4.48, -4.02, -4.14, -3.83, -3.86, -3.79, -3.74, -3.67,
             -3.79, -4.21, -3.86, -3.83, -3.62, -3.00, -3.24, -2.95, -3.07, -2.83, -2.88, -3.31, -3.31, -3.50, -3.12, -3.19, -3.19, -3.74, -4.02, -4.33,
             -4.67, -4.81, -5.45, -5.86, -6.40, -5.98, -6.81, -7.64, -7.29, -6.96, -6.48, -5.81, -5.81, -5.89, -5.29, -5.69, -5.41, -5.17, -5.45, -5.41,
             -5.57, -5.85, -6.21, -5.09, -5.13, -5.05, -5.09, -4.81, -4.45, -4.49, -4.45, -4.30, -4.65, -4.85, -4.73, -4.65, -4.85, -4.85, -5.21, -5.73,
             -5.33, -6.00, -6.52, -6.64, -6.48, -5.85, -4.89, -4.49, -4.30, -4.02, -4.42, -4.49, -5.37, -5.65, -5.13, -4.42, -3.62, -3.14, -2.35, -2.04]

# current year (2024), gap in mid September
current_doy = [0, 2.3, 6, 10.6, 13.6, 18.1, 21.1, 24.1, 27.1, 30.2, 34.7, 38.5, 41.5, 46.7, 49.8, 54.3, 57.3, 60.3, 63.3, 66.4,
               70.9, 75.4, 79.5, 84.5, 90.5, 95, 99.5, 105.6, 111.6, 116.2, 120.7, 123.7, 129.7, 135.7, 141.8, 146.3, 150.8, 155.4, 157.6, 162.9,
               165.9, 169.7, 171.9, 175.7, 181, 183.3, 187, 190, 192.3, 196.1, 200.6, 205.1, 208.1, 211.2, 214.2, 217.2, 220.2, 223.2, 226.2, 229.3,
               233, 237.6, 242.1, 245.1, 248.1, 253.4, 257.5, 262.4, 265.5, 267.7, 270.8, 274.5, 276, 280.5, 285.1, 288.1, 292.6,
               295.6, 298.6, 300.9, 302.4, 304.7]
current_sd = [-2.35, -1.95, -1.71, -1.75, -1.95, -2.42, -2.35, -2.54, -3.06, -3.26, -3.14, -3.34, -3.10, -3.10, -2.63, -2.54, -2.35, -2.42, -2.11, -2.35,
              -1.95, -2.19, -2.58, -2.35, -2.27, -2.11, -1.95, -1.83, -1.83, -1.87, -1.63, -2.03, -1.71, -2.42, -2.74, -2.42, -3.06, -3.70, -4.89, -4.97,
              -4.77, -5.05, -4.73, -5.85, -5.25, -4.81, -4.26, -4.49, -4.57, -5.29, -5.45, -5.85, -5.49, -6.00, -5.37, -4.65, -5.13, -4.77, -4.30, -4.45,
              -4.37, -4.65, -4.45, -4.73, -4.77, -4.30, None, -3.86, -3.98, -4.26, -4.22, -4.45, -4.65, -4.77, -5.13, -5.65, -6.09,
              -6.32, -6.32, -7.12, -8.00, -8.39]

# swatch colours of the year strip (as seen on white)
swatch = ['#fcc9d9',
          '#f9b5cd', '#f9b4cd', '#f9b3cd', '#f8b2cd', '#f8b2cd', '#f8b1cd', '#f8b0cd', '#f7b0cd', '#f7afcd', '#f7aecd',
          '#eea1cb', '#eda0cb', '#ed9fcb', '#ec9fcb', '#ec9ecb', '#eb9ecb', '#eb9dcb', '#ea9dcb', '#ea9ccb', '#e99ccb',
          '#da88c0', '#da87c0', '#d987c0', '#d986c0', '#d886bf', '#d885bf', '#d785bf', '#d784bf', '#d684bf', '#d683bf',
          '#bc85bf', '#bb85be', '#ba84be', '#b984bd', '#b884bd', '#b683bc', '#b483bc', '#b283bb', '#b082bb', '#ae82ba',
          '#a983b8', '#a783b7', '#a582b6']
record_color = '#3498db'
decade_labels = ["1980's", "1990's", "2000's", "2010/20's"]
decade_pos = [5.8, 15.8, 25.8, 35.8]

series = [sd_1979, sd_1980, sd_1981, sd_1982, sd_1983, sd_1984, sd_1985, sd_1986, sd_1987, sd_1988, sd_1989,
          sd_1990, sd_1991, sd_1992, sd_1993, sd_1994, sd_1995, sd_1996, sd_1997, sd_1998, sd_1999,
          sd_2000, sd_2001, sd_2002, sd_2003, sd_2004, sd_2005, sd_2006, sd_2007, sd_2008, sd_2009,
          sd_2010, sd_2011, sd_2012, sd_2013, sd_2014, sd_2015, sd_2016, sd_2017, sd_2018, sd_2019,
          sd_2020, sd_2021, sd_2022]

ALPHA = 0.47


def line_color(hex_color):
    # colour that gives the swatch when drawn at ALPHA over white
    r, g, b = (int(hex_color[i:i + 2], 16) for i in (1, 3, 5))
    f = lambda c: max(0, min(255, round((c - 255 * (1 - ALPHA)) / ALPHA)))
    return 'rgb(%d,%d,%d)' % (f(r), f(g), f(b))


fig = go.Figure()
for yr, vals, col in zip(years, series, swatch):
    fig.add_trace(go.Scatter(x=doy[:len(vals)], y=vals, mode='lines', name=str(yr), opacity=ALPHA,
                             line=dict(color=line_color(col), width=1.7), hoverinfo='skip', showlegend=False))

fig.add_trace(go.Scatter(x=record_doy, y=record_sd, mode='lines', name='2023',
                         line=dict(color=record_color, width=3.6), showlegend=False))
fig.add_trace(go.Scatter(x=current_doy, y=current_sd, mode='lines', name='2024', connectgaps=False,
                         line=dict(color='black', width=3.6), showlegend=False))

# year strip under the chart
fig.add_trace(go.Scatter(x=list(range(len(years) + 2)), y=[0.29] * (len(years) + 2), xaxis='x2', yaxis='y2',
                         mode='markers', hoverinfo='skip', showlegend=False,
                         marker=dict(symbol='square', size=10, line=dict(width=0),
                                     color=swatch + ['#3a9ad9', '#000000'])))

axis_grey = '#777777'
fig.update_layout(
    width=1000, height=780,
    margin=dict(l=92, r=109, t=112, b=68),
    paper_bgcolor='white', plot_bgcolor='white',
    font=dict(family='Roboto', color='#222222', size=14),
    title=dict(text='Standard Deviations for Global Sea Ice Extent - NSIDC', x=0.5, xanchor='center',
               y=1 - 52 / 780, yanchor='middle', yref='container', font=dict(size=30, color='#1a1a1a')),
    xaxis=dict(domain=[0, 1], range=[0, 361.5], tickvals=month_days, ticktext=month_names,
               showgrid=True, gridcolor='#e6e6e6', gridwidth=1, zeroline=False,
               showline=True, linecolor=axis_grey, linewidth=2, ticks='outside', ticklen=6,
               tickcolor=axis_grey, tickfont=dict(size=14), anchor='y', ticklabelstandoff=-4,
               title=dict(text='Date', font=dict(size=22), standoff=2)),
    yaxis=dict(domain=[0.2, 1], range=[-8.56, 2.91], tickvals=list(range(-8, 3)),
               showgrid=False, zeroline=False, showline=True, mirror=True, linecolor=axis_grey, linewidth=2,
               ticks='outside', ticklen=6, tickcolor=axis_grey, tickfont=dict(size=14), anchor='x',
               title=dict(text='Number of standard deviations', font=dict(size=23), standoff=27)),
    xaxis2=dict(domain=[0, 1], range=[-3.933, 49.333], visible=False, anchor='y2'),
    yaxis2=dict(domain=[0, 0.15], range=[0, 1], visible=False, anchor='x2'),
)

annotations = [
    dict(text='1981-2010 Baseline', xref='paper', yref='paper', x=0.5, y=1.05, showarrow=False,
         font=dict(size=15, color='#222222'), xanchor='center', yanchor='middle'),
    dict(text='Record low year', xref='paper', yref='paper', x=0.0338, y=0.2267, showarrow=False,
         font=dict(size=15, color='#222222'), xanchor='left', yanchor='middle'),
    dict(text='seaice.visuals.earth', xref='paper', yref='paper', x=0.9887, y=0.2267, showarrow=False,
         font=dict(size=15, color='#222222'), xanchor='right', yanchor='middle'),
    dict(text='Ja', xref='paper', yref='paper', x=0.996, y=0.178, showarrow=False,
         font=dict(size=14, color='#222222'), xanchor='left', yanchor='middle'),
]
for lab, pos in zip(decade_labels, decade_pos):
    annotations.append(dict(text=lab, xref='x2', yref='y2', x=pos, y=0.567, showarrow=False,
                            font=dict(size=14, color='#222222'), xanchor='center', yanchor='middle'))
fig.update_layout(annotations=annotations)

fig.update_layout(shapes=[
    dict(type='rect', xref='paper', yref='paper', x0=0.0125, x1=0.025, y0=0.2183, y1=0.235,
         fillcolor=record_color, line=dict(width=0)),
    dict(type='line', xref='paper', yref='paper', x0=1.0100, x1=1.0100, y0=0.2, y1=1,
         line=dict(color='#e6e6e6', width=1), layer='below'),
    dict(type='line', xref='paper', yref='paper', x0=1.0100, x1=1.0100, y0=0.19, y1=0.2,
         line=dict(color=axis_grey, width=2)),
])

fig.write_html('out.html')
